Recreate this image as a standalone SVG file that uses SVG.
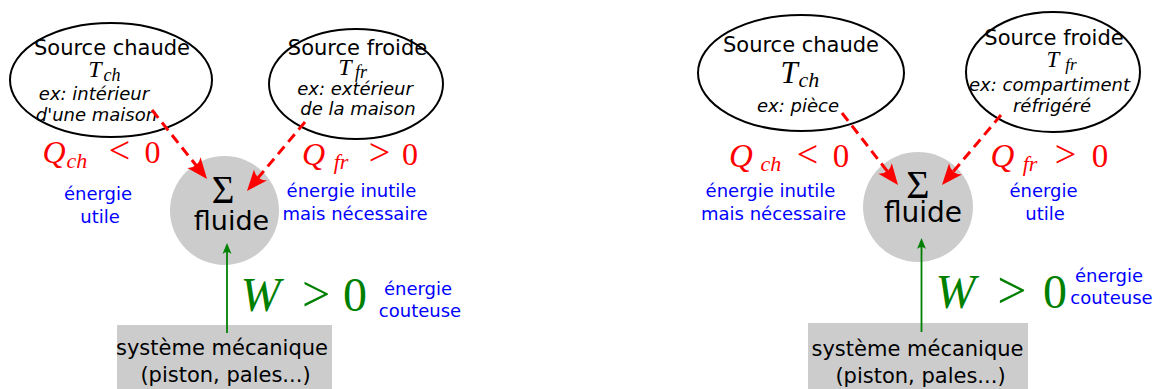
<svg xmlns="http://www.w3.org/2000/svg" width="1162" height="389" viewBox="0 0 1162 389">
<style>
.lbl{font-family:"DejaVu Sans",sans-serif;fill:#000;text-anchor:middle}
.src{font-size:21px}
.ex{font-size:18px;font-style:italic}
.blue{font-family:"DejaVu Sans",sans-serif;fill:#0000ff;font-size:18px;text-anchor:middle}
.math{font-family:"Liberation Serif","Times New Roman",serif;text-anchor:middle}
.it{font-style:italic}
.red{fill:#ff0000}
.grn{fill:#008000}
.ell{fill:#fff;stroke:#000;stroke-width:2}
.gray{fill:#cccccc}
.dash{fill:none;stroke:#ff0000;stroke-width:3;stroke-dasharray:10,6}
.work{fill:none;stroke:#008000;stroke-width:1.8}
</style>
<defs>
<marker id="ar" viewBox="-22 -9 24 18" markerWidth="24" markerHeight="18" refX="-14" refY="0" orient="auto" markerUnits="userSpaceOnUse"><path d="M0,0 L-21,-8.5 Q-14,0 -21,8.5 Z" fill="#ff0000"/></marker>
<marker id="ag" viewBox="-12 -6 14 12" markerWidth="14" markerHeight="12" refX="-7" refY="0" orient="auto" markerUnits="userSpaceOnUse"><path d="M0,0 L-11,-4.5 Q-7,0 -11,4.5 Z" fill="#008000"/></marker>
</defs>

<!-- LEFT PANEL -->
<g id="fluide-left">
<circle class="gray" cx="224.5" cy="210.5" r="54.5"/>
<text class="math" x="223" y="203" font-size="39">Σ</text>
<text class="lbl" x="231.5" y="230" font-size="27">fluide</text>
</g>
<g id="meca-left">
<rect class="gray" x="117" y="325" width="215" height="64"/>
<text class="lbl src" x="222" y="355">système mécanique</text>
<text class="lbl src" x="225.5" y="382">(piston, pales...)</text>
</g>
<g id="chaude-left">
<ellipse class="ell" cx="111" cy="80" rx="101" ry="57"/>
<text class="lbl src" x="112" y="55">Source chaude</text>
<text class="math it" x="95" y="77" font-size="24">T</text>
<text class="math it" x="112" y="81" font-size="18">ch</text>
<text class="lbl ex" x="94" y="100">ex: intérieur</text>
<text class="lbl ex" x="96.5" y="121">d'une maison</text>
</g>
<g id="froide-left">
<ellipse class="ell" cx="356" cy="84" rx="87" ry="55"/>
<text class="lbl src" x="357.5" y="55">Source froide</text>
<text class="math it" x="345" y="75" font-size="24">T</text>
<text class="math it" x="361" y="78" font-size="18">fr</text>
<text class="lbl ex" x="355" y="95">ex: extérieur</text>
<text class="lbl ex" x="358" y="115">de la maison</text>
</g>
<g id="labels-left">
<g class="math red">
<text class="it" x="54" y="163" font-size="32">Q</text>
<text class="it" x="77" y="168" font-size="22">ch</text>
<text x="119.5" y="163" font-size="38">&lt;</text>
<text x="152.5" y="163" font-size="32">0</text>
<text class="it" x="313.5" y="165" font-size="32">Q</text>
<text class="it" x="341" y="169" font-size="22">fr</text>
<text x="379.5" y="165" font-size="38">&gt;</text>
<text x="410" y="165" font-size="32">0</text>
</g>
<g class="math grn">
<text class="it" x="260.5" y="311" font-size="48">W</text>
<text x="316" y="311" font-size="50">&gt;</text>
<text x="355" y="311" font-size="48">0</text>
</g>
<text class="blue" x="98" y="200">énergie</text>
<text class="blue" x="100" y="223">utile</text>
<text class="blue" x="351.5" y="197">énergie inutile</text>
<text class="blue" x="355" y="220">mais nécessaire</text>
<text class="blue" x="418" y="295">énergie</text>
<text class="blue" x="420" y="317">couteuse</text>
</g>

<!-- RIGHT PANEL -->
<g id="fluide-right">
<circle class="gray" cx="918" cy="207" r="55"/>
<text class="math" x="918" y="198" font-size="40">Σ</text>
<text class="lbl" x="923" y="222" font-size="28">fluide</text>
</g>
<g id="meca-right">
<rect class="gray" x="808" y="323" width="220" height="66"/>
<text class="lbl src" x="917.5" y="356">système mécanique</text>
<text class="lbl src" x="920.5" y="383">(piston, pales...)</text>
</g>
<g id="chaude-right">
<ellipse class="ell" cx="801" cy="73" rx="103" ry="58"/>
<text class="lbl src" x="801" y="52">Source chaude</text>
<text class="math it" x="789" y="83" font-size="31">T</text>
<text class="math it" x="809" y="87" font-size="22">ch</text>
<text class="lbl ex" x="798" y="112">ex: pièce</text>
</g>
<g id="froide-right">
<ellipse class="ell" cx="1053" cy="72" rx="87" ry="60"/>
<text class="lbl src" x="1054" y="45">Source froide</text>
<text class="math it" x="1053" y="67" font-size="23">T</text>
<text class="math it" x="1071" y="70" font-size="17">fr</text>
<text class="lbl ex" x="1049.5" y="91">ex: compartiment</text>
<text class="lbl ex" x="1052" y="112">réfrigéré</text>
</g>
<g id="labels-right">
<g class="math red">
<text class="it" x="741" y="167" font-size="33">Q</text>
<text class="it" x="771" y="171" font-size="22">ch</text>
<text x="807.5" y="167" font-size="38">&lt;</text>
<text x="841" y="167" font-size="33">0</text>
<text class="it" x="1002.5" y="167" font-size="33">Q</text>
<text class="it" x="1030" y="171" font-size="22">fr</text>
<text x="1065.5" y="167" font-size="38">&gt;</text>
<text x="1100" y="167" font-size="33">0</text>
</g>
<g class="math grn">
<text class="it" x="955.5" y="308" font-size="48">W</text>
<text x="1012" y="308" font-size="52">&gt;</text>
<text x="1055" y="308" font-size="48">0</text>
</g>
<text class="blue" x="770.5" y="197">énergie inutile</text>
<text class="blue" x="773.5" y="220">mais nécessaire</text>
<text class="blue" x="1043.5" y="197">énergie</text>
<text class="blue" x="1045" y="220">utile</text>
<text class="blue" x="1109" y="282">énergie</text>
<text class="blue" x="1111.5" y="304">couteuse</text>
</g>

<g id="connectors">
<line class="dash" x1="152" y1="110" x2="198.3" y2="168.1" marker-end="url(#ar)"/>
<line class="dash" x1="305" y1="122" x2="256" y2="180.3" marker-end="url(#ar)"/>
<line class="work" x1="227" y1="333" x2="227" y2="250" marker-end="url(#ag)"/>
<line class="dash" x1="842" y1="113" x2="889.4" y2="174" marker-end="url(#ar)"/>
<line class="dash" x1="1001" y1="115" x2="951" y2="174.3" marker-end="url(#ar)"/>
<line class="work" x1="921.5" y1="332" x2="921.5" y2="245" marker-end="url(#ag)"/>
</g>
</svg>
